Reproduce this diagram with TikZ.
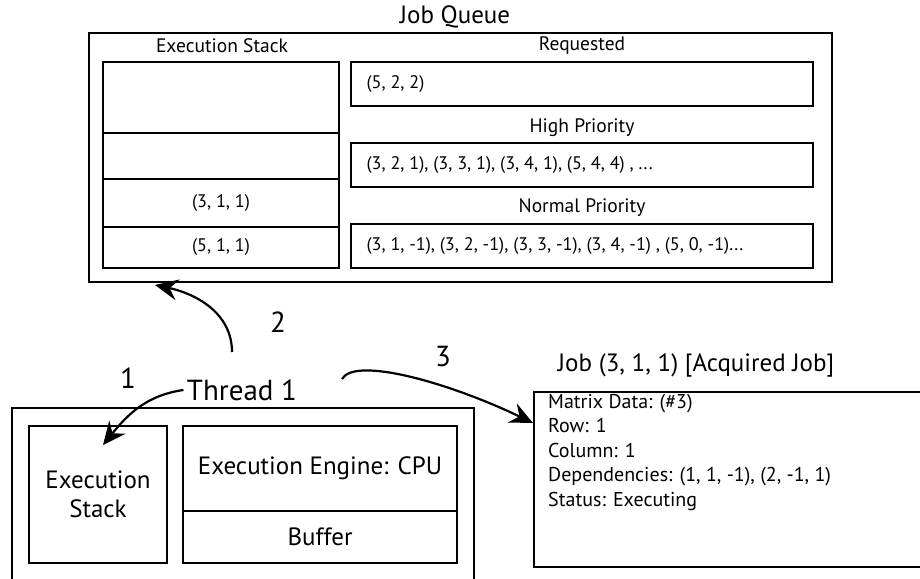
\documentclass[tikz,border=0pt]{standalone}
\usepackage{fontspec}
\setmainfont{PT Sans}
\usetikzlibrary{arrows.meta}
\begin{document}
\begin{tikzpicture}[x=1pt,y=1pt,
  box/.style={draw, line width=2pt, rectangle, inner sep=0pt},
  qfont/.style={font=\fontsize{19.5}{23}\selectfont},
  lfont/.style={font=\fontsize{18.2}{22}\selectfont},
  bfont/.style={font=\fontsize{25}{29}\selectfont},
  jfont/.style={font=\fontsize{20}{24.5}\selectfont},
  bigfont/.style={font=\fontsize{29}{33}\selectfont},
  conn/.style={line width=2.2pt, -{Stealth[length=23pt,width=21pt,inset=8pt]}},
]
\clip (0,0) rectangle (920,578);

% ---- job queue ----
\node[box, line width=2.4pt, minimum width=743pt, minimum height=249pt] (queue) at (460.5,420.5) {};
\node[bfont] (qtitle) at (455,561) {Job Queue};

% execution stack column
\node[qfont] (eslabel) at (222,532) {Execution Stack};
\node[box, minimum width=236pt, minimum height=71pt] (c1) at (221,480.5) {};
\node[box, minimum width=236pt, minimum height=46pt] (c2) at (221,422) {};
\node[box, minimum width=236pt, minimum height=48pt, lfont] (c3) at (221,375) {(3, 1, 1)};
\node[box, minimum width=236pt, minimum height=41pt, lfont] (c4) at (221,330.5) {(5, 1, 1)};

% job lists
\node[qfont] (reqlabel) at (582,532) {Requested};
\node[box, minimum width=462pt, minimum height=44pt] (req) at (582,494) {};
\node[lfont, anchor=west] (reqtext) at (363,494) {(5, 2, 2)};

\node[qfont] (hilabel) at (582,450) {High Priority};
\node[box, minimum width=462pt, minimum height=44pt] (hi) at (582,413) {};
\node[lfont, anchor=west] (hitext) at (363,413) {(3, 2, 1), (3, 3, 1), (3, 4, 1), (5, 4, 4) , ...};

\node[qfont] (nolabel) at (582,370) {Normal Priority};
\node[box, minimum width=462pt, minimum height=44pt] (no) at (582,332) {};
\node[lfont, anchor=west] (notext) at (363,332) {(3, 1, -1), (3, 2, -1), (3, 3, -1), (3, 4, -1) , (5, 0, -1)...};

% ---- thread ----
\node[box, line width=2.4pt, minimum width=462pt, minimum height=190pt] (thr) at (243,75) {};
\node[bigfont] (thread) at (242,188) {Thread 1};
\node[box, minimum width=138pt, minimum height=137pt, bfont, align=center] (es) at (98,83.5) {Execution\\Stack};
\node[box, minimum width=274pt, minimum height=85pt, bfont] (eng) at (320,109.5) {Execution Engine: CPU};
\node[box, minimum width=274pt, minimum height=52pt, bfont] (buf) at (320,41) {Buffer};

% ---- acquired job ----
\node[box, line width=2.4pt, minimum width=406pt, minimum height=175pt] (job) at (737,98.5) {};
\node[bfont] (jobtitle) at (696,213) {Job (3, 1, 1) [Acquired Job]};
\node[jfont, anchor=north west, align=left, inner sep=0pt] (jobtext) at (548,184) {%
  Matrix Data: (\#3)\\
  Row: 1\\
  Column: 1\\
  Dependencies: (1, 1, -1), (2, -1, 1)\\
  Status: Executing};

% ---- steps ----
\node[bigfont] (n1) at (128,200) {1};
\node[bigfont] (n2) at (278,256) {2};
\node[bigfont] (n3) at (443,221) {3};

\coordinate (t1) at (103,133);
\coordinate (s2) at (232,226);
\coordinate (t2) at (155,293);
\coordinate (s3) at (342,199);
\coordinate (t3) at (533,155);

\draw[conn] (thread.west) to[out=188,in=51] (t1);
\draw[conn] (s2) to[out=90,in=-12] (t2);
\draw[conn] (s3) .. controls (355,222) and (450,195) .. (t3);
\end{tikzpicture}
\end{document}
